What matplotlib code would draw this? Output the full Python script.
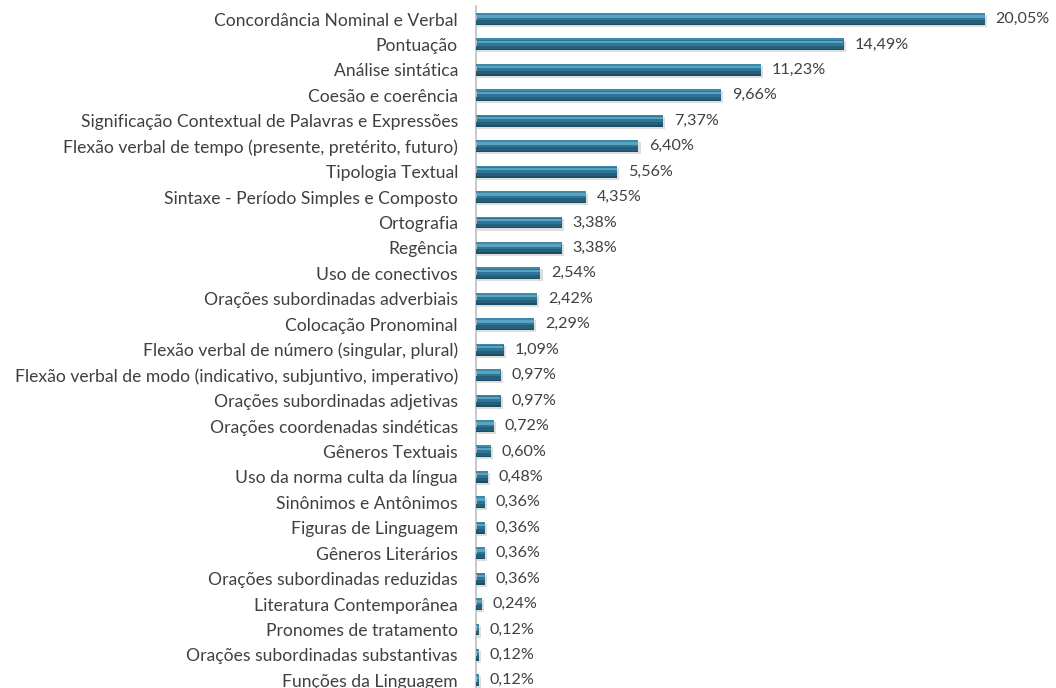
import matplotlib
matplotlib.use("Agg")
import matplotlib.pyplot as plt
import numpy as np

categories = [
    "Concordância Nominal e Verbal",
    "Pontuação",
    "Análise sintática",
    "Coesão e coerência",
    "Significação Contextual de Palavras e Expressões",
    "Flexão verbal de tempo (presente, pretérito, futuro)",
    "Tipologia Textual",
    "Sintaxe - Período Simples e Composto",
    "Ortografia",
    "Regência",
    "Uso de conectivos",
    "Orações subordinadas adverbiais",
    "Colocação Pronominal",
    "Flexão verbal de número (singular, plural)",
    "Flexão verbal de modo (indicativo, subjuntivo, imperativo)",
    "Orações subordinadas adjetivas",
    "Orações coordenadas sindéticas",
    "Gêneros Textuais",
    "Uso da norma culta da língua",
    "Sinônimos e Antônimos",
    "Figuras de Linguagem",
    "Gêneros Literários",
    "Orações subordinadas reduzidas",
    "Literatura Contemporânea",
    "Pronomes de tratamento",
    "Orações subordinadas substantivas",
    "Funções da Linguagem",
]
values = [20.05, 14.49, 11.23, 9.66, 7.37, 6.40, 5.56, 4.35, 3.38, 3.38, 2.54,
          2.42, 2.29, 1.09, 0.97, 0.97, 0.72, 0.60, 0.48, 0.36, 0.36, 0.36,
          0.36, 0.24, 0.12, 0.12, 0.12]

plt.rcParams['font.family'] = ['Lato', 'DejaVu Sans']
W, H = 1056, 688
fig = plt.figure(figsize=(W / 100, H / 100), dpi=100)
left_px, right_px = 476, 1040
top_px = 6.3
ax = fig.add_axes([left_px / W, 0, (right_px - left_px) / W, 1 - top_px / H])

ypos = np.arange(len(categories))
vals = np.array(values)
h = 0.47
top = ypos - h / 2
# shadow
ax.barh(ypos + 0.08, vals + 0.05, height=h, left=0.03, color="#d0d0d0", alpha=0.7, zorder=1)
# base bar
ax.barh(ypos, vals, height=h, color="#2e7697", zorder=2)
# dark lower part
ax.barh(top + h * 0.80, vals, height=h * 0.40, color="#255f79", zorder=3)
ax.barh(top + h * 0.94, vals, height=h * 0.12, color="#1d4d62", zorder=3)
# light upper band
ax.barh(top + h * 0.28, vals - 0.04, left=0.02, height=h * 0.20, color="#5aa3c1", zorder=4)
ax.barh(top + h * 0.07, vals, height=h * 0.14, color="#3e8aaa", zorder=4)

for y, v in zip(ypos, vals):
    ax.text(v + 0.42, y, f"{v:.2f}%".replace(".", ","), va="center", ha="left",
            fontsize=11.6, color="#404040")

ax.set_yticks(ypos)
ax.set_yticklabels(categories, fontsize=12.6, color="#404040")
ax.tick_params(axis="y", length=0, pad=13)
ax.set_xticks([])
ax.set_xlim(0, (right_px - left_px) / 25.39)
ax.set_ylim(26.3, -0.5)
for s in ["top", "right", "bottom"]:
    ax.spines[s].set_visible(False)
ax.spines["left"].set_color("#bfbfbf")
ax.spines["left"].set_linewidth(1.2)

fig.savefig("out.png", dpi=100)
